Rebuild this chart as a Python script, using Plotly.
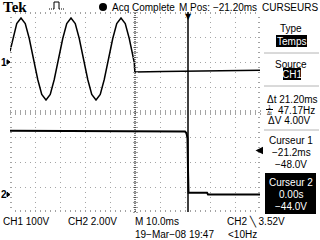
import plotly.graph_objects as go

# CH1 trace: time in ms, volts (100 V/div)
ch1_t = [-71.2, -70.1, -68.5, -66.8, -65.1, -63.5, -61.8, -60.1, -58.5, -56.8,
         -55.1, -53.5, -51.8, -50.1, -48.5, -46.8, -45.1, -43.5, -41.8, -40.1,
         -38.5, -36.8, -35.1, -33.5, -31.8, -30.1, -28.5, -26.8, -25.1, -23.5,
         -22.2, -21.8, -21.5, -21.3, -21.2, -10.0, 0.0, 10.0, 20.0, 28.8]
ch1_v = [43, 94, 154, 176, 154, 94, 12, -70, -130, -152,
         -130, -70, 12, 94, 154, 176, 154, 94, 12, -70,
         -130, -152, -130, -70, 12, 94, 154, 176, 154, 94,
         32, 10, -2, -36, -40, -38, -37, -35, -34, -33]

# CH2 trace: time in ms, volts (2 V/div)
ch2_t = [-71.2, -2.0, -1.2, -0.6, -0.2, 0.0, 0.2, 7.6, 8.0, 28.8]
ch2_v = [5.1, 5.1, 5.05, 4.9, 4.5, 2.0, 0.15, 0.15, 0.0, 0.0]

cursor_t = [-21.2, 0.0]          # cursor 1, cursor 2 (ms)
trig_level = 3.52                # CH2 trigger level (V)
x_range = [-71.2, 28.8]          # 10 ms/div, M Pos -21.20 ms
ch1_range = [-600, 200]          # 100 V/div
ch2_range = [-1.4, 14.6]         # 2 V/div

top_texts = ["Tek", "Acq Complete", "M Pos: \u221221.20ms", "CURSEURS"]
menu_texts = ["Type", "Temps", "Source", "CH1", "\u0394t 21.20ms", "47.17Hz",
              "\u0394V 4.00V", "Curseur 1", "\u221221.2ms", "\u221248.0V",
              "Curseur 2", "0.00s", "\u221244.0V"]
bottom_texts = ["CH1 100V", "CH2 2.00V", "M 10.0ms", "CH2 \u2572 3.52V",
                "19\u2212Mar\u221208 19:47", "<10Hz"]

# ---------------- figure ----------------
F = "Liberation Sans Narrow, Arial Narrow, Liberation Sans, Arial, sans-serif"
FS = 10
GRID = "#a4a4a4"

fig = go.Figure()
fig.add_trace(go.Scatter(x=ch1_t, y=ch1_v, mode="lines", xaxis="x", yaxis="y",
                         line=dict(color="black", width=1.5), showlegend=False, hoverinfo="skip"))
fig.add_trace(go.Scatter(x=ch2_t, y=ch2_v, mode="lines", xaxis="x", yaxis="y2",
                         line=dict(color="black", width=2), showlegend=False, hoverinfo="skip"))
for xa, ya in [("x2", "y"), ("x3", "y"), ("x", "y3"), ("x", "y4")]:
    fig.add_trace(go.Scatter(x=[None], y=[None], xaxis=xa, yaxis=ya, mode="lines",
                             showlegend=False, hoverinfo="skip"))

common_x = dict(range=x_range, tick0=x_range[0], dtick=10, showticklabels=False,
                zeroline=False, showline=False, fixedrange=True)
common_y = dict(range=ch1_range, tick0=ch1_range[0], dtick=100, showticklabels=False,
                zeroline=False, showline=False, fixedrange=True)

fig.update_layout(
    width=320, height=240, autosize=False,
    margin=dict(l=10, r=60, t=12, b=28, pad=0),
    paper_bgcolor="white", plot_bgcolor="white",
    xaxis=dict(**common_x, showgrid=True, gridcolor=GRID, gridwidth=1, griddash="1px,4px",
               ticks="inside", ticklen=2, tickcolor=GRID, mirror="ticks",
               minor=dict(dtick=2, tick0=x_range[0], ticks="inside", ticklen=2,
                          tickcolor=GRID, showgrid=False)),
    yaxis=dict(**common_y, showgrid=True, gridcolor=GRID, gridwidth=1, griddash="1px,4px",
               ticks="inside", ticklen=2, tickcolor=GRID, mirror="ticks",
               minor=dict(dtick=20, tick0=ch1_range[0], ticks="inside", ticklen=2,
                          tickcolor=GRID, showgrid=False)),
    yaxis2=dict(range=ch2_range, overlaying="y", visible=False, fixedrange=True),
    xaxis2=dict(**common_x, overlaying="x", anchor="free", position=0.5, side="bottom",
                showgrid=False, ticks="outside", ticklen=2, tickcolor=GRID,
                minor=dict(dtick=2, tick0=x_range[0], ticks="outside", ticklen=2, tickcolor=GRID)),
    xaxis3=dict(**common_x, overlaying="x", anchor="free", position=0.5, side="top",
                showgrid=False, ticks="outside", ticklen=2, tickcolor=GRID,
                minor=dict(dtick=2, tick0=x_range[0], ticks="outside", ticklen=2, tickcolor=GRID)),
    yaxis3=dict(**common_y, overlaying="y", anchor="free", position=0.5, side="left",
                showgrid=False, ticks="outside", ticklen=2, tickcolor=GRID,
                minor=dict(dtick=20, tick0=ch1_range[0], ticks="outside", ticklen=2, tickcolor=GRID)),
    yaxis4=dict(**common_y, overlaying="y", anchor="free", position=0.5, side="right",
                showgrid=False, ticks="outside", ticklen=2, tickcolor=GRID,
                minor=dict(dtick=20, tick0=ch1_range[0], ticks="outside", ticklen=2, tickcolor=GRID)),
)

# cursors
fig.add_shape(type="line", xref="x", yref="paper", x0=cursor_t[0], x1=cursor_t[0], y0=0, y1=1,
              line=dict(color="black", width=1, dash="1px,1px"))
fig.add_shape(type="line", xref="x", yref="paper", x0=cursor_t[1], x1=cursor_t[1], y0=0, y1=1,
              line=dict(color="black", width=1.5))


def px(x):
    return (x - 10) / 250.0


def py(y):
    return (212 - y) / 200.0


def T(text, x, y, anchor="left", size=FS, color="black", family=F):
    fig.add_annotation(text=text, x=px(x), y=py(y), xref="paper", yref="paper",
                       xanchor=anchor, yanchor="middle", showarrow=False,
                       font=dict(family=family, size=size, color=color))


# trigger position marker (top of graticule)
fig.add_annotation(text="\u25bc", x=cursor_t[1], y=1, xref="x", yref="paper", xanchor="center",
                   yanchor="top", yshift=2, showarrow=False,
                   font=dict(family="DejaVu Sans", size=8, color="black"))
# channel ground markers: label + small right-pointing triangle (at 0 V of each channel)
for lab, rng in [("1", ch1_range), ("2", ch2_range)]:
    g = (0 - rng[0]) / (rng[1] - rng[0])
    fig.add_annotation(text="<b>" + lab + "</b>", x=px(-0.5), y=g, xref="paper", yref="paper",
                       xanchor="left", yanchor="middle", showarrow=False, borderpad=0,
                       font=dict(family="Liberation Sans, Arial", size=10, color="black"))
    fig.add_shape(type="path", xref="paper", yref="paper",
                  path=f"M {px(7)} {g + 0.011} L {px(10)} {g} L {px(7)} {g - 0.011} Z",
                  fillcolor="black", line=dict(color="black", width=1))
# trigger level marker
fig.add_annotation(text="", x=0.982, y=trig_level, xref="paper", yref="y2", ax=7, ay=0,
                   showarrow=True, arrowhead=2, arrowsize=1, arrowwidth=1.5, arrowcolor="black")

# top line
T("<b>" + top_texts[0] + "</b>", 1, 7, size=15, family="Liberation Serif, DejaVu Serif, serif")
fig.add_shape(type="path", xref="paper", yref="paper",
              path=f"M {px(54)} {py(9)} L {px(54)} {py(2)} L {px(59)} {py(2)} L {px(59)} {py(9)}",
              line=dict(color="black", width=1))
fig.add_shape(type="line", xref="paper", yref="paper", x0=px(49), x1=px(54), y0=py(9), y1=py(9),
              line=dict(color="black", width=1, dash="1px,1px"))
fig.add_shape(type="line", xref="paper", yref="paper", x0=px(59), x1=px(65), y0=py(9), y1=py(9),
              line=dict(color="black", width=1, dash="1px,1px"))
fig.add_shape(type="circle", xref="paper", yref="paper", x0=px(99), x1=px(107), y0=py(3), y1=py(11),
              fillcolor="black", line=dict(color="black", width=0))
T(top_texts[1], 110, 7)
T(top_texts[2], 177, 7)
T(top_texts[3], 290, 7, anchor="center")

# right menu
T(menu_texts[0], 291, 29, anchor="center")
fig.add_shape(type="rect", xref="paper", yref="paper", x0=px(276), x1=px(307), y0=py(35), y1=py(47),
              fillcolor="black", line=dict(width=0))
T(menu_texts[1], 291.5, 41, anchor="center", color="white")
for ys in [53, 86, 130]:
    fig.add_shape(type="line", xref="paper", yref="paper", x0=px(264), x1=px(319), y0=py(ys), y1=py(ys),
                  line=dict(color="#b4b4b4", width=1))
T(menu_texts[2], 291, 64, anchor="center")
fig.add_shape(type="rect", xref="paper", yref="paper", x0=px(283), x1=px(301), y0=py(68), y1=py(80),
              fillcolor="black", line=dict(width=0))
T(menu_texts[3], 292, 74, anchor="center", color="white")
T(menu_texts[4], 265, 100)
T("1", 269.5, 106.5, anchor="center", size=5)
fig.add_shape(type="line", xref="paper", yref="paper", x0=px(266), x1=px(273), y0=py(109.5), y1=py(109.5),
              line=dict(color="black", width=1))
T("\u0394t", 269.5, 113, anchor="center", size=5)
T(menu_texts[5], 276, 110)
T(menu_texts[6], 266, 120)
T(menu_texts[7], 291, 140, anchor="center")
T(menu_texts[8], 291, 152, anchor="center")
T(menu_texts[9], 291, 164, anchor="center")
fig.add_shape(type="rect", xref="paper", yref="paper", x0=px(265), x1=px(316), y0=py(173), y1=py(214),
              fillcolor="black", line=dict(width=0))
T(menu_texts[10], 290.5, 182, anchor="center", color="white")
T(menu_texts[11], 290.5, 194, anchor="center", color="white")
T(menu_texts[12], 290.5, 206, anchor="center", color="white")

# bottom lines
T(bottom_texts[0], 1, 221)
T(bottom_texts[1], 66, 221)
T(bottom_texts[2], 133, 221)
T(bottom_texts[3], 225, 221)
T(bottom_texts[4], 133, 234)
T(bottom_texts[5], 226, 234)

fig.write_html("out.html")
